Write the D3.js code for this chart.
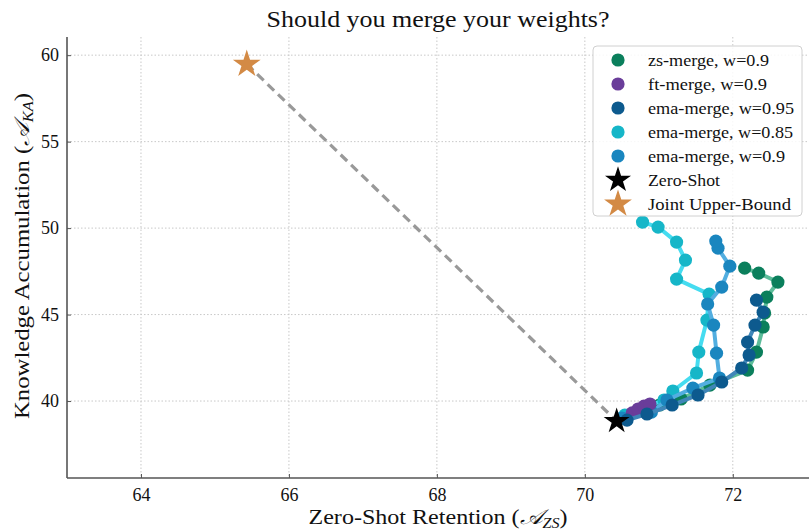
<!DOCTYPE html>
<html lang="en">
<head>
<meta charset="utf-8">
<style>
  body { margin: 0; background: #fff; }
  svg text { font-family: "Liberation Serif", "DejaVu Serif", serif; fill: #111; }
</style>
</head>
<body>
<svg width="809" height="532"></svg>
<script src="https://d3js.org/d3.v7.min.js"></script>
<script>
// series values
var zsX = [71.01, 71.30, 71.69, 72.20, 72.32, 72.41, 72.43, 72.46, 72.61, 72.35, 72.16];
var zsY = [39.77, 40.12, 40.92, 41.79, 42.83, 44.28, 45.09, 46.01, 46.88, 47.40, 47.69];

var ftX = [70.64, 70.72, 70.80, 70.88];
var ftY = [39.31, 39.54, 39.71, 39.83];

var ema95X = [70.57, 70.84, 71.18, 71.53, 71.85, 72.12, 72.22, 72.20, 72.30, 72.41, 72.32];
var ema95Y = [38.90, 39.25, 39.77, 40.35, 41.10, 41.91, 42.66, 43.41, 44.39, 45.14, 45.84];

var ema85X = [70.54, 71.07, 71.19, 71.51, 71.54, 71.65, 71.68, 71.24, 71.36, 71.24, 70.99, 70.78];
var ema85Y = [39.19, 40.06, 40.58, 41.62, 42.83, 44.68, 46.18, 47.05, 48.15, 49.19, 50.06, 50.35];

var ema90X = [70.50, 70.90, 71.11, 71.46, 71.82, 71.78, 71.74, 71.66, 71.85, 71.96, 71.80, 71.77];
var ema90Y = [39.02, 39.36, 40.06, 40.75, 41.33, 42.77, 44.39, 45.61, 46.59, 47.80, 48.84, 49.25];

var zeroShot = [70.43, 38.84];
var jointUpper = [65.43, 59.48];

var xTicks = [64, 66, 68, 70, 72];
var yTicks = [40, 45, 50, 55, 60];

var seriesNames = ["zs-merge, w=0.9", "ft-merge, w=0.9", "ema-merge, w=0.95", "ema-merge, w=0.85", "ema-merge, w=0.9"];
var markerColors = ["#0b7f5c", "#6a3d9a", "#0d5a8e", "#16b6c8", "#1a86bf"];
var lineColors = ["#5cbc9a", "#9a78c4", "#3f86b8", "#45dcf0", "#52aee0"];

var series = [
  { xs: zsX, ys: zsY },
  { xs: ftX, ys: ftY },
  { xs: ema95X, ys: ema95Y },
  { xs: ema85X, ys: ema85Y },
  { xs: ema90X, ys: ema90Y }
];
// order in which the series are stacked
var drawOrder = [0, 3, 4, 1, 2];

//set up svg canvas
var svg = d3.select("svg"),
    margin = { top: 37, right: 0, bottom: 54, left: 67 },
    width = +svg.attr("width") - margin.left - margin.right,
    height = +svg.attr("height") - margin.top - margin.bottom;

var x = d3.scaleLinear().domain([63, 73.03]).range([0, width]),
    y = d3.scaleLinear().domain([35.55, 61.05]).range([height, 0]);

var g = svg.append("g")
    .attr("transform", "translate(" + margin.left + "," + margin.top + ")");

// dotted grid
g.selectAll(".gx").data(xTicks).enter().append("line")
    .attr("x1", function(d) { return x(d); }).attr("x2", function(d) { return x(d); })
    .attr("y1", 0).attr("y2", height)
    .attr("stroke", "#c8c8c8").attr("stroke-width", 1).attr("stroke-dasharray", "1.5,2");
g.selectAll(".gy").data(yTicks).enter().append("line")
    .attr("y1", function(d) { return y(d); }).attr("y2", function(d) { return y(d); })
    .attr("x1", 0).attr("x2", width)
    .attr("stroke", "#c8c8c8").attr("stroke-width", 1).attr("stroke-dasharray", "1.5,2");

// axes
var xAxis = g.append("g")
    .attr("transform", "translate(0," + height + ")")
    .call(d3.axisBottom(x).tickValues(xTicks).tickSize(-4).tickPadding(10).tickFormat(d3.format("d")));
var yAxis = g.append("g")
    .call(d3.axisLeft(y).tickValues(yTicks).tickSize(-4).tickPadding(8).tickFormat(d3.format("d")));
[xAxis, yAxis].forEach(function(a) {
  a.select(".domain").attr("stroke", "#555").attr("stroke-width", 1.6);
  a.selectAll(".tick line").attr("stroke", "#555");
  a.selectAll(".tick text").attr("font-size", 18).attr("font-family", "Liberation Serif").attr("fill", "#222");
});
// keep the spines only bottom and left
xAxis.select(".domain").attr("d", "M0,0H" + width);
yAxis.select(".domain").attr("d", "M0," + height + "V0");

// dashed line from joint upper bound to zero-shot
g.append("line")
    .attr("x1", x(jointUpper[0])).attr("y1", y(jointUpper[1]))
    .attr("x2", x(zeroShot[0])).attr("y2", y(zeroShot[1]))
    .attr("stroke", "#999").attr("stroke-width", 3.2).attr("stroke-dasharray", "9,5.5");

var line = d3.line()
    .x(function(d) { return x(d[0]); })
    .y(function(d) { return y(d[1]); });

drawOrder.forEach(function(i) {
  var s = series[i];
  var pts = s.xs.map(function(v, j) { return [v, s.ys[j]]; });
  var sg = g.append("g");
  sg.append("path")
      .attr("d", line(pts))
      .attr("fill", "none")
      .attr("stroke", lineColors[i])
      .attr("stroke-width", 4)
      .attr("stroke-linejoin", "round");
  sg.selectAll("circle").data(pts).enter().append("circle")
      .attr("cx", function(d) { return x(d[0]); })
      .attr("cy", function(d) { return y(d[1]); })
      .attr("r", 6.6)
      .attr("fill", markerColors[i]);
});

var star = d3.symbol().type(d3.symbolStar);
g.append("path")
    .attr("d", star.size(210)())
    .attr("transform", "translate(" + x(zeroShot[0]) + "," + y(zeroShot[1]) + ")")
    .attr("fill", "#000");
g.append("path")
    .attr("d", star.size(240)())
    .attr("transform", "translate(" + x(jointUpper[0]) + "," + y(jointUpper[1]) + ")")
    .attr("fill", "#d38a45");

// legend
var legend = svg.append("g").attr("transform", "translate(593,46)");
legend.append("rect")
    .attr("width", 209).attr("height", 170).attr("rx", 4)
    .attr("fill", "#fff").attr("fill-opacity", 0.85)
    .attr("stroke", "#d0d0d0");
var legendItems = seriesNames.concat(["Zero-Shot", "Joint Upper-Bound"]);
var legendWidths = [121, 119, 146, 145, 137, 72, 143];
legendItems.forEach(function(name, i) {
  var ly = 14 + i * 24;
  if (i < 5) {
    legend.append("circle").attr("cx", 25).attr("cy", ly).attr("r", 6.6).attr("fill", markerColors[i]);
  } else {
    legend.append("path")
        .attr("d", star.size(i === 5 ? 210 : 240)())
        .attr("transform", "translate(25," + ly + ")")
        .attr("fill", i === 5 ? "#000" : "#d38a45");
  }
  legend.append("text")
      .attr("x", 55).attr("y", ly + 6)
      .attr("font-size", 17.5)
      .attr("textLength", legendWidths[i])
      .attr("lengthAdjust", "spacingAndGlyphs")
      .text(name);
});

// title and axis labels
svg.append("text")
    .attr("x", margin.left + width / 2).attr("y", 27)
    .attr("text-anchor", "middle").attr("font-size", 23)
    .attr("textLength", 343).attr("lengthAdjust", "spacingAndGlyphs")
    .text("Should you merge your weights?");

var xl = svg.append("text")
    .attr("x", margin.left + width / 2).attr("y", 524)
    .attr("text-anchor", "middle").attr("font-size", 21)
    .attr("textLength", 259).attr("lengthAdjust", "spacingAndGlyphs")
    .text("Zero-Shot Retention (");
xl.append("tspan").attr("font-style", "italic").text("\uD835\uDC9C");
xl.append("tspan").attr("font-style", "italic").attr("font-size", 14).attr("dy", 4).text("ZS");
xl.append("tspan").attr("dy", -4).text(")");

var yl = svg.append("text")
    .attr("transform", "translate(29," + (margin.top + 219) + ") rotate(-90)")
    .attr("text-anchor", "middle").attr("font-size", 21)
    .attr("textLength", 326).attr("lengthAdjust", "spacingAndGlyphs")
    .text("Knowledge Accumulation (");
yl.append("tspan").attr("font-style", "italic").text("\uD835\uDC9C");
yl.append("tspan").attr("font-style", "italic").attr("font-size", 14).attr("dy", 4).text("KA");
yl.append("tspan").attr("dy", -4).text(")");
</script>
</body>
</html>
